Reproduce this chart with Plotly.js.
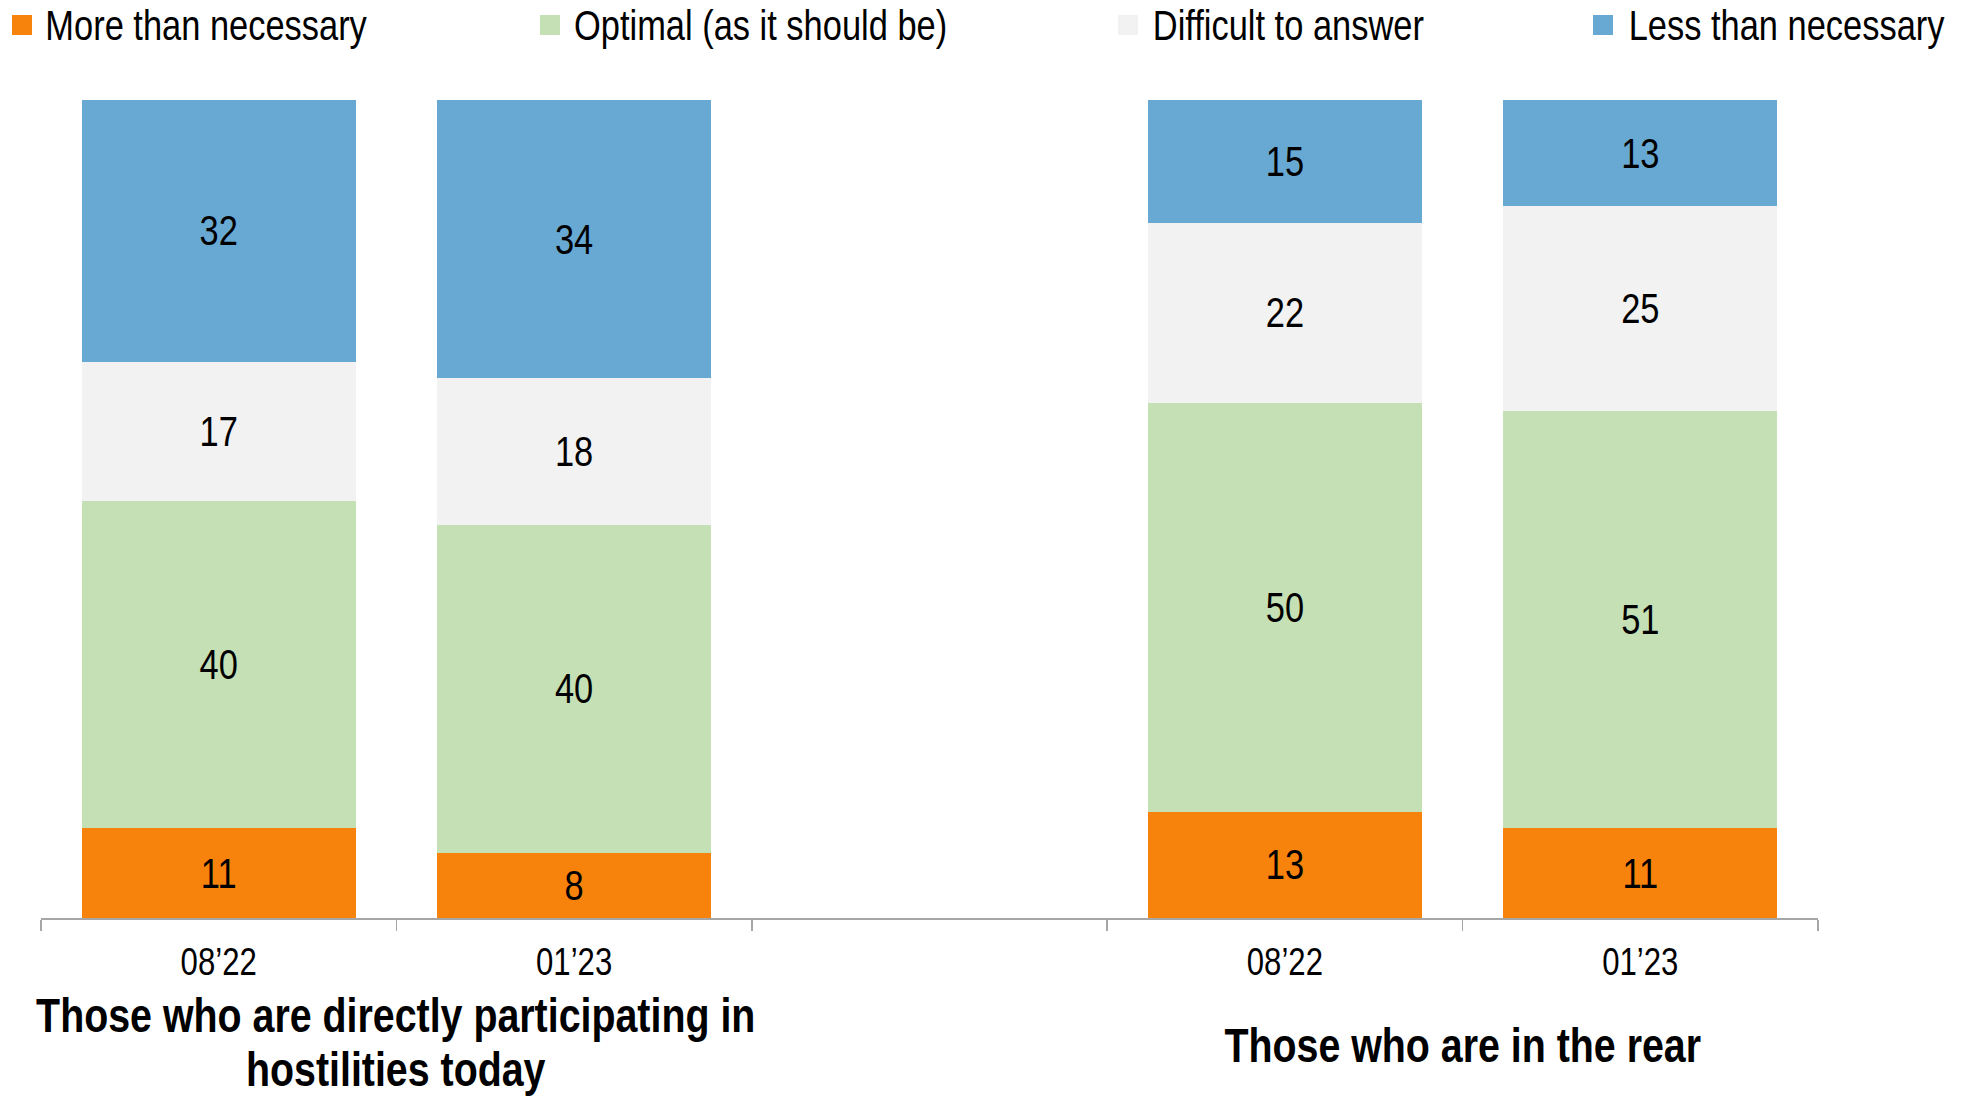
<!DOCTYPE html>
<html>
<head>
<meta charset="utf-8">
<script src="https://cdn.plot.ly/plotly-3.0.1.min.js"></script>
<style>
  html, body { margin: 0; padding: 0; background: #ffffff; }
  #chart { width: 1970px; height: 1098px; }
</style>
</head>
<body>
<div id="chart"></div>
<script>
// ---- Data ----
const positions = [0, 1, 3, 4];               // slot 2 is the empty gap between groups
const tickLabels = ["08’22", "01’23", "08’22", "01’23"];
const groupLabelLines = [["Those who are directly participating in", "hostilities today"], ["Those who are in the rear"]];
const seriesNames = ["More than necessary", "Optimal (as it should be)", "Difficult to answer", "Less than necessary"];
const moreThanNecessary = [11, 8, 13, 11];
const optimal = [40, 40, 50, 51];
const difficultToAnswer = [17, 18, 22, 25];
const lessThanNecessary = [32, 34, 15, 13];

// ---- Style ----
const colors = ["#F7830C", "#C5E0B4", "#F2F2F2", "#68A9D4"];
const FONT = "'Liberation Sans', Arial, sans-serif";
const NARROW = 0.82;   // horizontal condensing to mimic Arial Narrow
const W = 1970, H = 1098;
const M = {l: 41, r: 152, t: 100, b: 180};
const plotW = W - M.l - M.r, plotH = H - M.t - M.b;
const px2x = p => (p - M.l) / plotW;
const py2y = p => 1 - (p - M.t) / plotH;

const seriesValues = [moreThanNecessary, optimal, difficultToAnswer, lessThanNecessary];
const traces = seriesValues.map((vals, i) => ({
  type: "bar",
  name: seriesNames[i],
  x: positions,
  y: vals,
  text: vals.map(String),
  textposition: "inside",
  insidetextanchor: "middle",
  textangle: 0,
  textfont: {family: FONT, size: 42, color: "#000000"},
  marker: {color: colors[i], line: {width: 0}},
  width: 0.77,
  showlegend: false,
  hoverinfo: "name+y"
}));

// custom legend (squares + labels) placed along the top
const legendSquareLeft = [12, 540, 1118, 1593];
const legendTextCenter = [206, 760, 1288, 1786];
const legendY = 25;
const shapes = [];
const annotations = [];
seriesNames.forEach((n, i) => {
  shapes.push({
    type: "rect", xref: "paper", yref: "paper",
    x0: px2x(legendSquareLeft[i]), x1: px2x(legendSquareLeft[i] + 20),
    y0: py2y(legendY + 10), y1: py2y(legendY - 10),
    fillcolor: colors[i], line: {width: 0}
  });
  annotations.push({
    text: n, xref: "paper", yref: "paper",
    x: px2x(legendTextCenter[i]), y: py2y(legendY),
    xanchor: "center", yanchor: "middle", showarrow: false,
    font: {family: FONT, size: 42, color: "#000000"}
  });
});
// group labels under the axis (one annotation per line)
const groupCenters = [0.5, 3.5];
const groupLineY = [[1015, 1069], [1045]];
groupLabelLines.forEach((lines, i) => {
  lines.forEach((line, j) => {
    annotations.push({
      text: "<b>" + line + "</b>", xref: "x", yref: "paper",
      x: groupCenters[i], y: py2y(groupLineY[i][j]),
      xanchor: "center", yanchor: "middle", showarrow: false, align: "center",
      font: {family: FONT, size: 48, color: "#000000"}
    });
  });
});

const layout = {
  width: W, height: H,
  margin: M,
  paper_bgcolor: "#ffffff", plot_bgcolor: "#ffffff",
  barmode: "stack",
  showlegend: false,
  xaxis: {
    range: [-0.5, 4.5],
    tickmode: "array", tickvals: positions, ticktext: tickLabels,
    ticks: "", showgrid: false, zeroline: false,
    showline: true, linecolor: "#A6A6A6", linewidth: 1.5,
    tickfont: {family: FONT, size: 38, color: "#000000"},
    ticklabelstandoff: 10,
    minor: {tick0: 0.5, dtick: 1, ticks: "outside", ticklen: 11, tickwidth: 1.5, tickcolor: "#A6A6A6", showgrid: false},
    fixedrange: true
  },
  yaxis: {range: [0, 100], visible: false, showgrid: false, zeroline: false, fixedrange: true},
  shapes: shapes,
  annotations: annotations
};

// squeeze every text horizontally around its own centre (Arial Narrow look)
function condense(gd, k) {
  const ns = "http://www.w3.org/2000/svg";
  gd.querySelectorAll("svg text").forEach(t => {
    if (!t.textContent.trim()) return;
    const g = document.createElementNS(ns, "g");
    t.parentNode.insertBefore(g, t);
    g.appendChild(t);
    const bb = g.getBBox();
    const cx = bb.x + bb.width / 2;
    g.setAttribute("transform", "translate(" + cx + ",0) scale(" + k + ",1) translate(" + (-cx) + ",0)");
  });
}

Plotly.newPlot("chart", traces, layout, {displayModeBar: false, staticPlot: true})
  .then(gd => condense(gd, NARROW));
</script>
</body>
</html>
